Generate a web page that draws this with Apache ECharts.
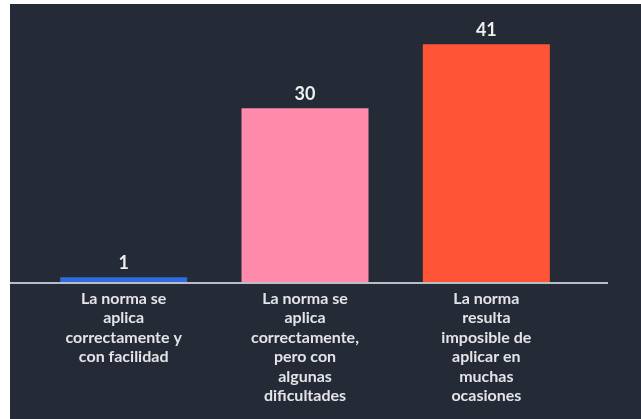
<!DOCTYPE html>
<html>
<head>
<meta charset="utf-8">
<script src="https://cdn.jsdelivr.net/npm/echarts@6/dist/echarts.min.js"></script>
<style>
  html, body { margin: 0; padding: 0; background: #ffffff; width: 641px; height: 419px; overflow: hidden; }
  #chart { position: absolute; left: 10px; top: 4px; width: 631px; height: 415px; }
</style>
</head>
<body>
<div id="chart"></div>
<script>
const categories = [
  "La norma se\naplica\ncorrectamente y\ncon facilidad",
  "La norma se\naplica\ncorrectamente,\npero con\nalgunas\ndificultades",
  "La norma\nresulta\nimposible de\naplicar en\nmuchas\nocasiones"
];
const values = [1, 30, 41];
const barColors = ["#2d6ce0", "#ff8aa9", "#ff5436"];

const chart = echarts.init(document.getElementById('chart'));
chart.setOption({
  backgroundColor: '#252a37',
  animation: false,
  grid: { left: 23, right: 64, top: 17, bottom: 136 },
  xAxis: {
    type: 'category',
    data: categories,
    axisLine: { show: false },
    axisTick: { show: false },
    axisLabel: {
      interval: 0,
      color: '#e4e4e8',
      fontFamily: 'Lato',
      fontWeight: 'bold',
      fontSize: 16,
      lineHeight: 19.5,
      margin: 6
    }
  },
  yAxis: {
    type: 'value',
    min: 0,
    max: 45,
    show: false,
    splitLine: { show: false }
  },
  series: [{
    type: 'bar',
    barWidth: 127,
    data: values.map((v, i) => ({ value: v, itemStyle: { color: barColors[i] } })),
    label: {
      show: true,
      position: 'top',
      distance: 5,
      color: '#eeeeee',
      fontFamily: 'Lato',
      fontWeight: 'bold',
      fontSize: 18
    }
  }],
  graphic: [{
    type: 'line',
    shape: { x1: 0, y1: 279, x2: 598, y2: 279 },
    style: { stroke: '#b9bdc7', lineWidth: 2 },
    z: 10
  }]
});
</script>
</body>
</html>
